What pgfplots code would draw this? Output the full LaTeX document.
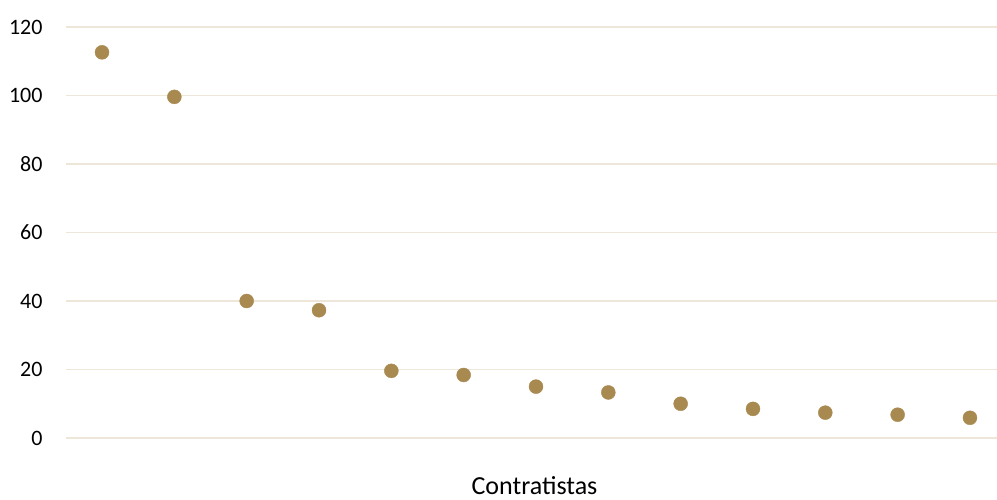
\documentclass[border=0pt]{standalone}
\usepackage{pgfplots}
\pgfplotsset{compat=1.18}
\usepackage{fontspec}
\setmainfont{Carlito}
\definecolor{mk}{HTML}{A8894F}
\definecolor{gr}{HTML}{EDE6D9}
\begin{document}
\begin{tikzpicture}[x=1bp,y=1bp]
\useasboundingbox (0,0) rectangle (997,500);
\begin{axis}[
  at={(66bp,62bp)}, anchor=south west,
  scale only axis, width=931bp, height=411bp,
  xmin=0.502, xmax=13.374, ymin=0, ymax=120,
  ytick={0,20,...,120},
  xtick=\empty,
  axis line style={draw=none},
  major tick length=0pt,
  ymajorgrids, grid style={gr, line width=1.3bp},
  yticklabel style={font=\fontsize{22bp}{24bp}\selectfont, anchor=east, xshift=-20bp},
  /pgf/number format/assume math mode=true,
  xlabel={Contratistas},
  xlabel style={font=\fontsize{26bp}{28bp}\selectfont, at={(axis description cs:0.5,0)}, anchor=base, xshift=3bp, yshift=-57bp},
  clip=false,
]
\addplot[only marks, mark=*, mark size=7bp, color=mk, mark options={fill=mk, draw=mk}] coordinates {
(1,112.6) (2,99.6) (3,40.0) (4,37.3) (5,19.6) (6,18.4) (7,15.0) (8,13.3) (9,10.0) (10,8.5) (11,7.4) (12,6.8) (13,5.9)
};
\end{axis}
\end{tikzpicture}
\end{document}
